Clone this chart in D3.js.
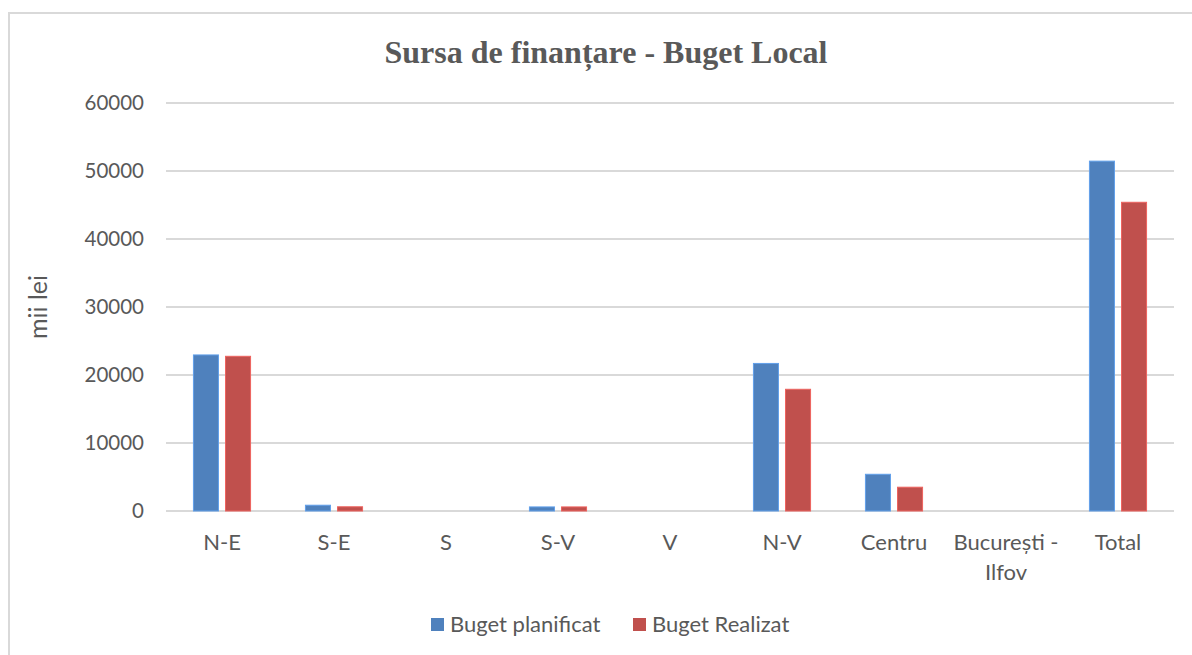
<!DOCTYPE html>
<html>
<head>
<meta charset="utf-8">
<script src="https://cdn.jsdelivr.net/npm/d3@7"></script>
<style>
    html, body { margin: 0; padding: 0; background: #fff; }
    svg { display: block; }
</style>
</head>
<body>
<div id="myChart"></div>
<script>
// data (mii lei)
const categories = ["N-E", "S-E", "S", "S-V", "V", "N-V", "Centru", "București - Ilfov", "Total"];
const seriesNames = ["Buget planificat", "Buget Realizat"];
const planificat = [22950, 850, 0, 600, 0, 21700, 5400, 0, 51450];
const realizat = [22750, 620, 0, 600, 0, 17900, 3500, 0, 45400];
const yTicks = [0, 10000, 20000, 30000, 40000, 50000, 60000];

const size = {
    width: 1192,
    height: 655,
    plot: { left: 166, right: 1174, top: 103, bottom: 511 },
}

const colors = ["#4F81BD", "#C0504D"];
const textColor = "#595959";
const labelFont = "Lato, 'Open Sans', sans-serif";

const drawChart = function(size) {
    const svg = d3.select("#myChart")
    .append("svg")
    .attr("width", size.width)
    .attr("height", size.height);

    // chart frame
    svg.append("rect")
    .attr("x", 9)
    .attr("y", 13)
    .attr("width", 1200)
    .attr("height", 700)
    .attr("fill", "#fff")
    .attr("stroke", "#d9d9d9")
    .attr("stroke-width", 2);

    svg.append("text")
    .attr("x", 606)
    .attr("y", 63)
    .attr("text-anchor", "middle")
    .attr("font-family", "'Liberation Serif', 'Times New Roman', serif")
    .attr("font-weight", "bold")
    .attr("font-size", 32)
    .attr("fill", textColor)
    .text("Sursa de finanțare - Buget Local");

    const y = d3.scaleLinear()
    .domain([0, 60000])
    .range([size.plot.bottom, size.plot.top]);

    const x0 = d3.scaleBand()
    .domain(categories)
    .range([size.plot.left, size.plot.right])
    .paddingInner(0.49)
    .paddingOuter(0.245);

    const x1 = d3.scaleBand()
    .domain(seriesNames)
    .range([0, x0.bandwidth()])
    .paddingInner(0.22);

    // gridlines
    svg.append("g")
    .selectAll("line")
    .data(yTicks)
    .enter().append("line")
    .attr("x1", size.plot.left)
    .attr("x2", size.plot.right)
    .attr("y1", (d) => y(d))
    .attr("y2", (d) => y(d))
    .attr("stroke", "#d9d9d9")
    .attr("stroke-width", 2);

    // y axis labels
    const yAxis = svg.append("g")
    .attr("transform", `translate(${size.plot.left - 22}, 0)`)
    .call(d3.axisLeft(y).tickValues(yTicks).tickSize(0).tickPadding(0).tickFormat(d3.format("d")));
    yAxis.select(".domain").remove();
    yAxis.selectAll("text")
    .attr("font-family", labelFont)
    .attr("font-size", 20.5)
    .attr("fill", textColor);

    svg.append("text")
    .attr("transform", `translate(38, ${(size.plot.top + size.plot.bottom) / 2}) rotate(-90)`)
    .attr("text-anchor", "middle")
    .attr("dy", "0.35em")
    .attr("font-family", labelFont)
    .attr("font-size", 25)
    .attr("fill", textColor)
    .text("mii lei");

    // bars
    const rows = categories.map((c, i) => ({ cat: c, values: [planificat[i], realizat[i]] }));
    const groups = svg.append("g")
    .selectAll("g")
    .data(rows)
    .enter().append("g")
    .attr("transform", (d) => `translate(${x0(d.cat)}, 0)`);

    groups.selectAll("rect")
    .data((d) => d.values.map((v, k) => ({ key: seriesNames[k], value: v, k: k })))
    .enter().append("rect")
    .filter((d) => d.value > 0)
    .attr("x", (d) => x1(d.key))
    .attr("y", (d) => y(d.value))
    .attr("width", x1.bandwidth())
    .attr("height", (d) => y(0) - y(d.value))
    .attr("fill", (d) => colors[d.k])
    .attr("stroke", (d) => d3.color(colors[d.k]).brighter(0.6))
    .attr("stroke-width", 1);

    // category labels
    const xLabels = svg.append("g")
    .selectAll("text")
    .data(categories)
    .enter().append("text")
    .attr("x", (d) => x0(d) + x0.bandwidth() / 2)
    .attr("y", 550)
    .attr("text-anchor", "middle")
    .attr("font-family", labelFont)
    .attr("font-size", 22)
    .attr("fill", textColor);

    xLabels.each(function(d) {
        const parts = d === "București - Ilfov" ? ["București -", "Ilfov"] : [d];
        const t = d3.select(this);
        parts.forEach((p, i) => {
            t.append("tspan")
            .attr("x", x0(d) + x0.bandwidth() / 2)
            .attr("dy", i === 0 ? 0 : 30)
            .text(p);
        });
    });

    // legend
    const legend = svg.append("g").attr("transform", "translate(431, 618)");
    const legendX = [0, 202];
    seriesNames.forEach((name, i) => {
        legend.append("rect")
        .attr("x", legendX[i])
        .attr("y", 0)
        .attr("width", 13)
        .attr("height", 13)
        .attr("fill", colors[i]);
        legend.append("text")
        .attr("x", legendX[i] + 19)
        .attr("y", 14)
        .attr("font-family", labelFont)
        .attr("font-size", 22)
        .attr("fill", textColor)
        .text(name);
    });
}

window.onload = () => {
    drawChart(size);
};
</script>
</body>
</html>
